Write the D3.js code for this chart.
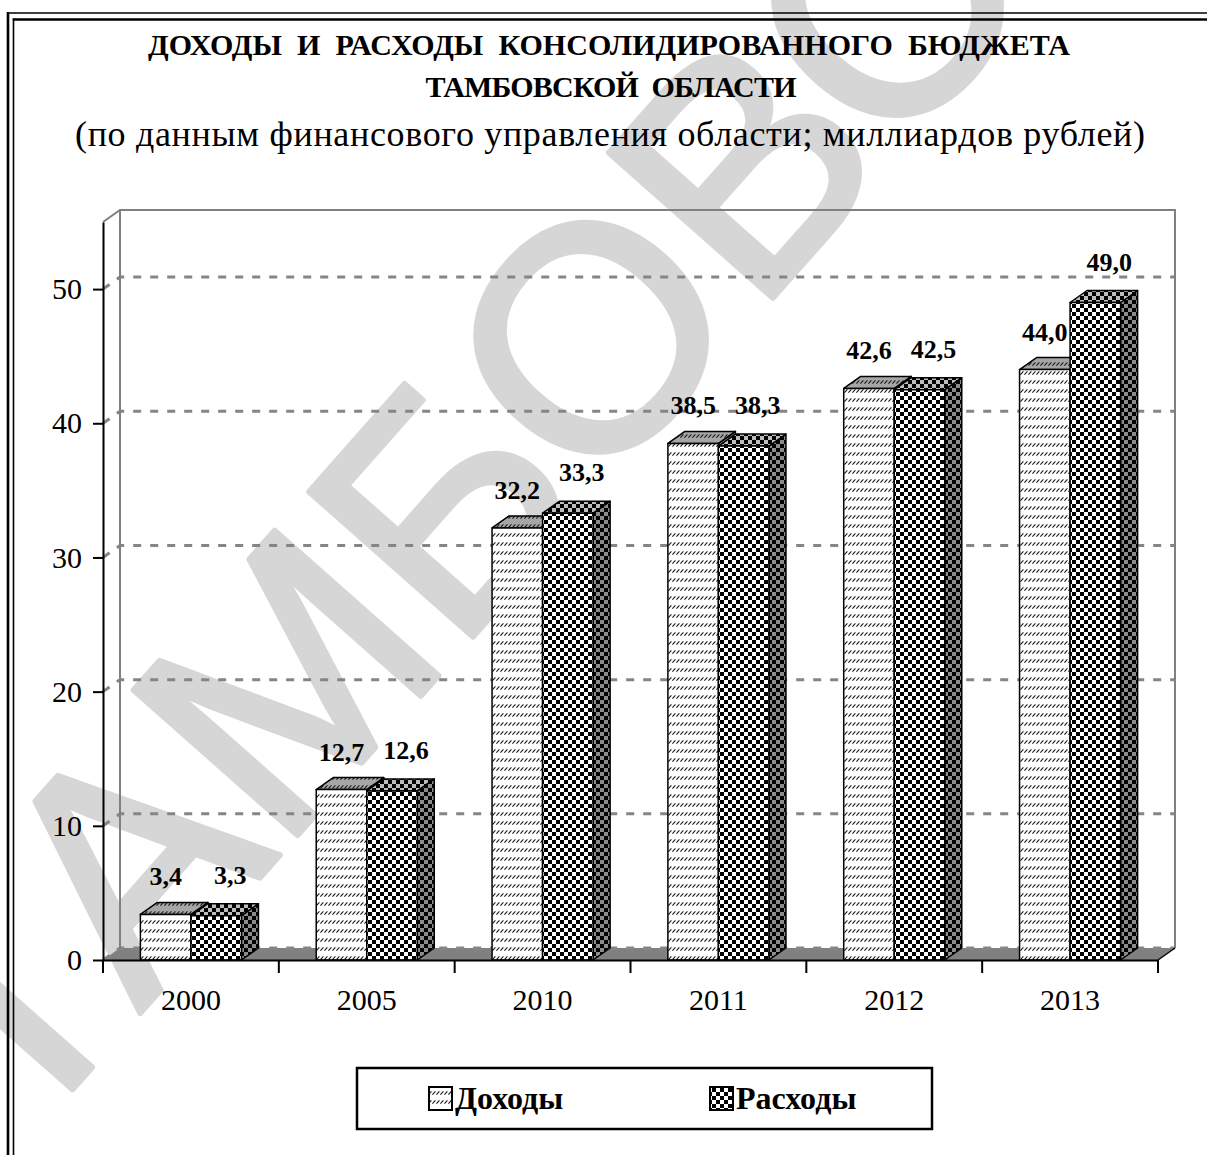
<!DOCTYPE html>
<html>
<head>
<meta charset="utf-8">
<script src="https://cdn.jsdelivr.net/npm/d3@7"></script>
<style>
  html, body { margin: 0; padding: 0; background: #fff; }
  svg { display: block; font-family: "Liberation Serif", "Times New Roman", serif; }
  text { font-family: "Liberation Serif", "Times New Roman", serif; }
  .pre { white-space: pre; }
</style>
</head>
<body>
<svg id="chart" width="1207" height="1155"></svg>
<script>
// данные
const years = ["2000", "2005", "2010", "2011", "2012", "2013"];
const dohody = [3.4, 12.7, 32.2, 38.5, 42.6, 44.0];
const rashody = [3.3, 12.6, 33.3, 38.3, 42.5, 49.0];
const seriesNames = ["Доходы", "Расходы"];
const yTicks = [0, 10, 20, 30, 40, 50];
const yMax = 55;

const DX = 17, DY = -12;   // глубина 3D
const svg = d3.select("#chart");
const W = 1207, H = 1155;
const SERIF = "'Liberation Serif', 'Times New Roman', serif";

svg.append("rect").attr("width", W).attr("height", H).attr("fill", "#fff");

////////////////////////////////////////////// ПАТТЕРНЫ
const defs = svg.append("defs");

function hatch(id, bg) {
  const p = defs.append("pattern").attr("id", id)
    .attr("patternUnits", "userSpaceOnUse").attr("width", 4).attr("height", 9);
  p.append("rect").attr("width", 4).attr("height", 9).attr("fill", bg);
  p.append("path").attr("d", "M0.4,5.6 L3.4,2.4").attr("stroke", "#1a1a1a").attr("stroke-width", 1.1);
}
function checker(id, light, dark) {
  const p = defs.append("pattern").attr("id", id)
    .attr("patternUnits", "userSpaceOnUse").attr("width", 8).attr("height", 8);
  p.append("rect").attr("width", 8).attr("height", 8).attr("fill", light);
  p.append("rect").attr("width", 4).attr("height", 4).attr("fill", dark);
  p.append("rect").attr("x", 4).attr("y", 4).attr("width", 4).attr("height", 4).attr("fill", dark);
}
hatch("hFront", "#ffffff");
hatch("hTop", "#a6a6a6");
hatch("hSide", "#8a8a8a");
checker("cFront", "#ffffff", "#000000");
checker("cTop", "#bdbdbd", "#000000");
checker("cSide", "#8c8c8c", "#000000");

const fills = [
  { front: "url(#hFront)", top: "url(#hTop)", side: "url(#hSide)", labDx: 0, labDy: -17 },
  { front: "url(#cFront)", top: "url(#cTop)", side: "url(#cSide)", labDx: 14, labDy: -20 }
];

////////////////////////////////////////////// ВОДЯНОЙ ЗНАК
const wm = svg.append("g").attr("transform", "translate(18,1151) rotate(-48.5)");
wm.append("text")
  .attr("x", 0).attr("y", 0)
  .style("font-family", "'Liberation Sans', Arial, sans-serif")
  .style("font-size", "318px")
  .attr("fill", "#d6d6d6")
  .attr("stroke", "#d6d6d6").attr("stroke-width", 6).attr("stroke-linejoin", "round")
  .text("ТАМБОВСТАТ");

////////////////////////////////////////////// РАМКА
svg.append("line").attr("x1", 8).attr("x2", 8).attr("y1", 12).attr("y2", H).attr("stroke", "#000").attr("stroke-width", 2.6);
svg.append("line").attr("x1", 7).attr("x2", W).attr("y1", 13).attr("y2", 13).attr("stroke", "#000").attr("stroke-width", 1.6);
svg.append("line").attr("x1", 13.5).attr("x2", 13.5).attr("y1", 18.5).attr("y2", H).attr("stroke", "#000").attr("stroke-width", 1.6);
svg.append("line").attr("x1", 12.7).attr("x2", W).attr("y1", 19.5).attr("y2", 19.5).attr("stroke", "#000").attr("stroke-width", 2.6);

////////////////////////////////////////////// ЗАГОЛОВОК
svg.append("text").attr("class", "pre").attr("x", 609).attr("y", 55).attr("text-anchor", "middle")
  .style("font-family", SERIF).style("font-size", "30px").style("font-weight", "bold")
  .attr("textLength", 922).attr("lengthAdjust", "spacing")
  .text("ДОХОДЫ  И  РАСХОДЫ  КОНСОЛИДИРОВАННОГО  БЮДЖЕТА");
svg.append("text").attr("class", "pre").attr("x", 611).attr("y", 97).attr("text-anchor", "middle")
  .style("font-family", SERIF).style("font-size", "30px").style("font-weight", "bold")
  .attr("textLength", 371).attr("lengthAdjust", "spacing")
  .text("ТАМБОВСКОЙ  ОБЛАСТИ");
svg.append("text").attr("x", 610).attr("y", 146).attr("text-anchor", "middle")
  .style("font-family", SERIF).style("font-size", "36px")
  .attr("textLength", 1070).attr("lengthAdjust", "spacing")
  .text("(по данным финансового управления области; миллиардов рублей)");

////////////////////////////////////////////// ШКАЛЫ
const x = d3.scaleBand().domain(years).range([103, 1158]);
const xs = d3.scaleBand().domain(seriesNames).range([0, x.bandwidth()]).paddingOuter(0.74);
const y = d3.scaleLinear().domain([0, yMax]).range([960, 222]);

const left = x.range()[0], right = x.range()[1];
const floorY = y(0), topY = y(yMax);

// стенки
const g = svg.append("g");
g.append("path")
  .attr("d", `M${left},${floorY} L${right},${floorY} L${right + DX},${floorY + DY} L${left + DX},${floorY + DY}Z`)
  .attr("fill", "#808080");

g.selectAll(".grid").data(yTicks).join("path").attr("class", "grid")
  .attr("d", d => `M${left},${y(d)} L${left + DX},${y(d) + DY} L${right + DX},${y(d) + DY}`)
  .attr("fill", "none").attr("stroke", "#858585").attr("stroke-width", 3)
  .attr("stroke-dasharray", "8,9");

g.append("path")
  .attr("d", `M${left},${topY} L${left + DX},${topY + DY} L${right + DX},${topY + DY} L${right + DX},${floorY + DY}`)
  .attr("fill", "none").attr("stroke", "#808080").attr("stroke-width", 2);
g.append("line").attr("x1", left + DX).attr("x2", left + DX).attr("y1", topY + DY).attr("y2", floorY + DY)
  .attr("stroke", "#808080").attr("stroke-width", 2);
g.append("path")
  .attr("d", `M${right},${floorY} L${right + DX},${floorY + DY}`)
  .attr("stroke", "#000").attr("stroke-width", 1.5);

////////////////////////////////////////////// СТОЛБЦЫ
const rows = years.map((yr, i) => ({ year: yr, vals: [dohody[i], rashody[i]] }));
const fmt = v => d3.format(".1f")(v).replace(".", ",");

const bars = svg.append("g");
rows.forEach(r => {
  r.vals.forEach((v, k) => {
    const x0 = x(r.year) + xs(seriesNames[k]);
    const x1 = x0 + xs.bandwidth();
    const yt = y(v), yb = y(0);
    const f = fills[k];
    const bg = bars.append("g").attr("stroke", "#000").attr("stroke-width", 1.5).attr("stroke-linejoin", "round");
    bg.append("path").attr("fill", f.side)
      .attr("d", `M${x1},${yb} L${x1},${yt} L${x1 + DX},${yt + DY} L${x1 + DX},${yb + DY}Z`);
    bg.append("path").attr("fill", f.top)
      .attr("d", `M${x0},${yt} L${x0 + DX},${yt + DY} L${x1 + DX},${yt + DY} L${x1},${yt}Z`);
    bg.append("rect").attr("fill", f.front)
      .attr("x", x0).attr("y", yt).attr("width", x1 - x0).attr("height", yb - yt);
  });
});

// подписи значений
rows.forEach(r => {
  r.vals.forEach((v, k) => {
    const f = fills[k];
    const cx = x(r.year) + xs(seriesNames[k]) + xs.bandwidth() / 2 + f.labDx;
    bars.append("text").attr("x", cx).attr("y", y(v) + DY + f.labDy)
      .attr("text-anchor", "middle")
      .style("font-family", SERIF).style("font-size", "26px").style("font-weight", "bold")
      .text(fmt(v));
  });
});

////////////////////////////////////////////// ОСИ
const yAxis = svg.append("g").attr("transform", `translate(${left},0)`)
  .call(d3.axisLeft(y).tickValues(yTicks).tickSize(10).tickSizeOuter(0).tickPadding(11).tickFormat(d3.format("d")));
yAxis.attr("font-family", null);
yAxis.select(".domain").attr("stroke", "#000").attr("stroke-width", 2);
yAxis.selectAll(".tick line").attr("stroke", "#000").attr("stroke-width", 2);
yAxis.selectAll(".tick text").style("font-family", SERIF).style("font-size", "30px").attr("fill", "#000");

const xAxis = svg.append("g").attr("transform", `translate(0,${floorY})`)
  .call(d3.axisBottom(x).tickSize(0).tickPadding(29));
xAxis.attr("font-family", null);
xAxis.select(".domain").attr("stroke", "#000").attr("stroke-width", 2);
xAxis.selectAll(".tick text").style("font-family", SERIF).style("font-size", "30px").attr("fill", "#000");

const edges = years.map(d => x(d)).concat([right]);
svg.append("g").selectAll("line").data(edges).join("line")
  .attr("x1", d => d).attr("x2", d => d)
  .attr("y1", floorY).attr("y2", floorY + 13)
  .attr("stroke", "#000").attr("stroke-width", 2);

////////////////////////////////////////////// ЛЕГЕНДА
const leg = svg.append("g");
leg.append("rect").attr("x", 357).attr("y", 1068).attr("width", 575).attr("height", 61)
  .attr("fill", "#fff").attr("stroke", "#000").attr("stroke-width", 2.5);
const legX = [429, 710];
seriesNames.forEach((name, k) => {
  leg.append("rect").attr("x", legX[k]).attr("y", 1087).attr("width", 23).attr("height", 23)
    .attr("fill", fills[k].front).attr("stroke", "#000").attr("stroke-width", 2);
  leg.append("text").attr("x", legX[k] + 26).attr("y", 1109)
    .style("font-family", SERIF).style("font-size", "32px").style("font-weight", "bold")
    .text(name);
});
</script>
</body>
</html>
